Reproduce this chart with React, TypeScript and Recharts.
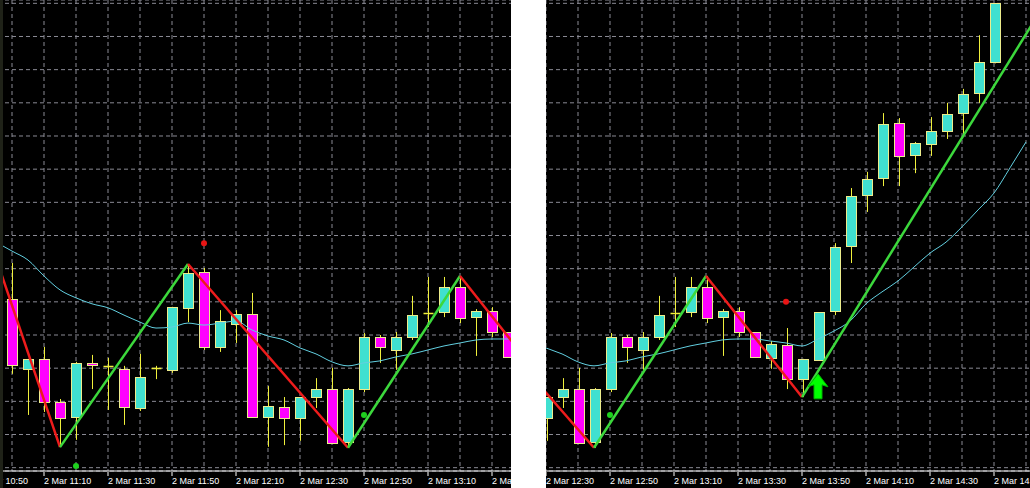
import { ComposedChart, Bar, Line, Scatter, XAxis, YAxis, CartesianGrid } from 'recharts';

// 5-minute bars, bar 0 = 2 Mar 11:00
const opens = [50.9, 29.8, 32.8, 19.8, 15.3, 31.6, 30.7, 29.8, 18.0, 30.1, 29.5, 48.2, 59.0, 36.4, 43.3, 46.3,
  15.3, 18.3, 15.0, 21.3, 23.7, 7.7, 23.7, 39.4, 35.5, 39.4, 46.7, 46.9, 54.5, 45.4, 47.2, 40.9,
  33.1, 37.1, 26.7, 32.5, 47.2, 66.8, 82.2, 87.3, 103.9, 94.3, 97.6, 101.5, 106.9, 113.0, 122.3];
const highs = [61.7, 32.8, 36.4, 20.7, 31.9, 34.0, 33.1, 30.7, 34.3, 30.7, 48.5, 61.4, 60.2, 47.5, 47.5, 52.7,
  24.6, 21.3, 21.3, 27.0, 30.1, 24.0, 40.6, 40.0, 40.9, 51.8, 57.5, 57.5, 57.8, 47.8, 48.4, 40.9,
  38.2, 42.1, 32.8, 46.9, 67.7, 84.3, 89.2, 106.9, 105.4, 98.2, 105.7, 110.0, 114.2, 130.4, 140.1];
const lows = [28.3, 15.9, 16.8, 6.2, 8.4, 23.7, 17.4, 12.9, 17.1, 26.7, 28.6, 43.9, 35.5, 34.9, 37.6, 15.0,
  6.3, 6.8, 8.1, 18.0, 7.5, 6.0, 22.8, 31.6, 29.5, 38.5, 42.4, 45.4, 43.6, 33.7, 39.4, 33.1,
  29.8, 23.7, 21.3, 32.2, 46.0, 61.7, 77.1, 84.9, 84.9, 88.8, 94.0, 99.1, 99.7, 110.0, 121.9];
const closes = [31.0, 32.8, 19.8, 15.0, 31.6, 31.0, 30.7, 18.3, 27.3, 30.1, 48.5, 58.7, 36.4, 44.2, 46.3, 15.3,
  18.6, 15.0, 21.3, 23.7, 7.5, 23.7, 39.4, 36.4, 39.3, 46.0, 46.7, 54.5, 45.1, 47.2, 40.9, 33.4,
  37.3, 26.7, 32.8, 46.9, 66.5, 81.9, 87.0, 103.6, 94.0, 97.9, 101.5, 106.6, 112.7, 122.3, 140.1];

// moving average, starting one bar before bar 0
const MA_FIRST = -1;
const maValues = [68.0, 65.3, 62.6, 57.8, 53.6, 51.2, 49.4, 48.2, 46.0, 43.9, 42.1, 42.4, 43.6, 43.0, 43.6, 44.2,
  41.5, 39.7, 38.5, 36.1, 34.3, 31.9, 30.7, 31.6, 32.2, 33.4, 34.3, 35.5, 36.7, 37.6, 38.5, 38.8,
  38.8, 38.2, 37.6, 36.7, 38.8, 41.2, 44.2, 49.4, 53.0, 56.3, 60.5, 64.7, 68.0, 72.6, 77.7, 82.8, 90.4, 98.2];

const zigzagPivots = [
  { i: -1, v: 63.2 },
  { i: 3, v: 6.2 },
  { i: 11, v: 61.4 },
  { i: 21, v: 6.0 },
  { i: 28, v: 57.8 },
  { i: 34, v: 21.3 },
  { i: 52, v: 162 },
];

const upperDots = [{ i: 12, v: 67.7 }, { i: 33, v: 50.0 }];
const lowerDots = [{ i: 4, v: 0.5 }, { i: 22, v: 15.9 }];
const buyArrows = [{ i: 35, v: 28.3 }];

const tickLabels: Record<number, string> = {
  '-2': '2 Mar 10:50',
  2: '2 Mar 11:10',
  6: '2 Mar 11:30',
  10: '2 Mar 11:50',
  14: '2 Mar 12:10',
  18: '2 Mar 12:30',
  22: '2 Mar 12:50',
  26: '2 Mar 13:10',
  30: '2 Mar 13:30',
  34: '2 Mar 13:50',
  38: '2 Mar 14:10',
  42: '2 Mar 14:30',
  46: '2 Mar 14:50',
};

const priceTicks = [0, 10, 20, 30, 40, 50, 60, 70, 80, 90, 100, 110, 120, 130, 140];

const COLORS = {
  grid: '#8a8a94',
  up: '#40e0d0',
  down: '#ff00ff',
  outline: '#ecec8c',
  wick: '#f0f03c',
  ma: '#62cfe0',
  zzUp: '#3cd83c',
  zzDown: '#ee1c1c',
  axis: '#ffffff',
};

const BAR_STEP = 16;
const HEIGHT = 488;

const rows: any[] = [];
for (let k = 0; k < maValues.length; k++) {
  const i = MA_FIRST + k;
  const row: any = { i, ma: maValues[k] };
  if (i >= 0 && i < opens.length) {
    row.open = opens[i];
    row.high = highs[i];
    row.low = lows[i];
    row.close = closes[i];
    row.range = [lows[i], highs[i]];
  }
  rows.push(row);
}

const zigzagLegs = zigzagPivots.slice(1).map((p, k) => ({
  data: [zigzagPivots[k], p],
  color: p.v > zigzagPivots[k].v ? COLORS.zzUp : COLORS.zzDown,
}));

function Candle(props: any) {
  const { x, y, width, height, payload } = props;
  if (!payload || payload.open == null) return null;
  const { open, high, low, close } = payload;
  const top = Math.min(y, y + height);
  const span = Math.abs(height);
  const toY = (p: number) => top + ((high - p) / (high - low)) * span;
  const cx = Math.round(x + width / 2) + 0.5;
  const half = 5;
  const yo = toY(open);
  const yc = toY(close);
  const bodyTop = Math.round(Math.min(yo, yc)) + 0.5;
  const bodyH = Math.round(Math.abs(yo - yc));
  return (
    <g>
      <line x1={cx} x2={cx} y1={top} y2={top + span} stroke={COLORS.wick} />
      {bodyH < 1 ? (
        <line x1={cx - half} x2={cx + half} y1={bodyTop} y2={bodyTop} stroke={COLORS.wick} strokeWidth={1.5} />
      ) : (
        <rect
          x={cx - half}
          y={bodyTop}
          width={half * 2}
          height={bodyH}
          fill={close >= open ? COLORS.up : COLORS.down}
          stroke={COLORS.outline}
        />
      )}
    </g>
  );
}

function TimeTick(props: any) {
  const { x, y, payload } = props;
  const label = tickLabels[payload.value];
  if (!label) return null;
  return (
    <g>
      <line x1={x} x2={x} y1={y + 1} y2={y + 5} stroke={COLORS.axis} />
      <text x={x} y={y + 13} fill="#ffffff" fontSize={9} fontFamily="'Liberation Sans', Arial, sans-serif">
        {label}
      </text>
    </g>
  );
}

const dotShape = (color: string) => (props: any) => <circle cx={props.cx} cy={props.cy} r={3} fill={color} />;

function ArrowShape(props: any) {
  const { cx, cy } = props;
  const pts = [
    [cx, cy],
    [cx + 10, cy + 13],
    [cx + 4, cy + 11],
    [cx + 4, cy + 25],
    [cx - 4, cy + 25],
    [cx - 4, cy + 11],
    [cx - 10, cy + 13],
  ]
    .map(p => p.join(','))
    .join(' ');
  return <polygon points={pts} fill="#00ff00" stroke="#00b400" strokeWidth={1} />;
}

function Panel({ left, width, from, to, barZeroX }: { left: number; width: number; from: number; to: number; barZeroX: number }) {
  const chartWidth = (to - from) * BAR_STEP;
  const gridTicks: number[] = [];
  for (let t = Math.ceil(from / 2) * 2; t <= to; t += 2) gridTicks.push(t);

  return (
    <div style={{ position: 'absolute', left, top: 0, width, height: HEIGHT, background: '#000', overflow: 'hidden' }}>
      <div style={{ position: 'absolute', left: barZeroX + from * BAR_STEP, top: 0 }}>
        <ComposedChart width={chartWidth} height={HEIGHT} data={rows} margin={{ top: 0, right: 0, bottom: 0, left: 0 }}>
          <CartesianGrid stroke={COLORS.grid} strokeDasharray="4 3" />
          <XAxis
            dataKey="i"
            type="number"
            domain={[from, to]}
            allowDataOverflow
            ticks={gridTicks}
            interval={0}
            tickLine={false}
            tickSize={0}
            tickMargin={0}
            tick={<TimeTick />}
            axisLine={{ stroke: COLORS.axis }}
            height={17}
          />
          <YAxis hide type="number" domain={[-1, 141]} ticks={priceTicks} allowDataOverflow />
          <Bar dataKey="range" barSize={11} shape={<Candle />} isAnimationActive={false} />
          <Line
            dataKey="ma"
            type="monotone"
            stroke={COLORS.ma}
            strokeWidth={1}
            dot={false}
            isAnimationActive={false}
          />
          {zigzagLegs.map((leg, k) => (
            <Line
              key={`zz-${k}`}
              data={leg.data}
              dataKey="v"
              type="linear"
              stroke={leg.color}
              strokeWidth={2.5}
              dot={false}
              isAnimationActive={false}
            />
          ))}
          <Scatter data={upperDots} dataKey="v" shape={dotShape('#e81414')} isAnimationActive={false} />
          <Scatter data={lowerDots} dataKey="v" shape={dotShape('#1ed01e')} isAnimationActive={false} />
          <Scatter data={buyArrows} dataKey="v" shape={<ArrowShape />} isAnimationActive={false} />
        </ComposedChart>
      </div>
    </div>
  );
}

export default function App() {
  return (
    <div style={{ position: 'absolute', left: 0, top: 0, width: 1030, height: HEIGHT, background: '#ffffff' }}>
      <Panel left={0} width={511} from={-3.5} to={31.5} barZeroX={12} />
      <div style={{ position: 'absolute', left: 0, top: 0, width: 3, height: HEIGHT, background: '#1f2218' }} />
      <Panel left={546} width={484} from={16} to={49} barZeroX={-288} />
    </div>
  );
}
